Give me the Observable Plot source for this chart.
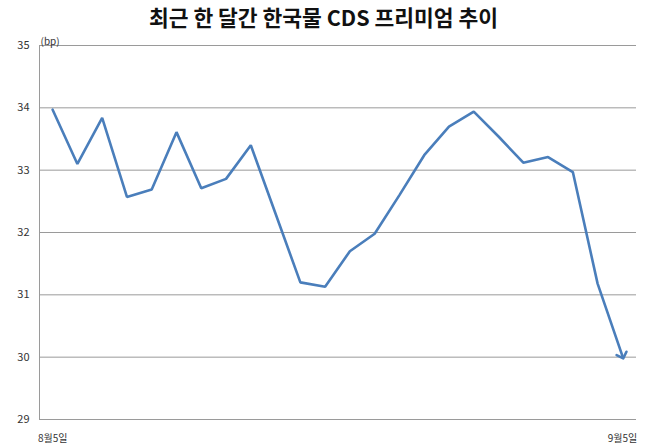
<!DOCTYPE html>
<html>
<head>
<meta charset="utf-8">
<script src="https://cdn.jsdelivr.net/npm/d3@7"></script>
<script src="https://cdn.jsdelivr.net/npm/@observablehq/plot@0.6"></script>
<style>
  html, body { margin: 0; padding: 0; background: #fff; }
  #title { width: 647px; height: 32px; text-align: center; font-family: "Noto Sans CJK KR", sans-serif; font-weight: 700; font-size: 21.5px; line-height: 34px; color: #111; box-sizing: border-box; }
  #chart svg { display: block; }
</style>
</head>
<body>
<div id="title">최근 한 달간 한국물 CDS 프리미엄 추이</div>
<div id="chart"></div>
<script>
const values = [33.97, 33.10, 33.84, 32.57, 32.69, 33.61, 32.71, 32.86, 33.40, 32.30,
                31.20, 31.13, 31.70, 31.98, 32.60, 33.24, 33.70, 33.94, 33.54, 33.12,
                33.21, 32.97, 31.18, 30.02];
const xTickLabels = ["8월5일", "9월5일"];
const yTicks = [29, 30, 31, 32, 33, 34, 35];
const unitLabel = "(bp)";

const data = values.map((v, i) => ({i, v}));
const lastIndex = values.length - 1;

const chart = Plot.plot({
  width: 647,
  height: 416,
  marginLeft: 39,
  marginRight: 11,
  marginTop: 13,
  marginBottom: 29,
  style: {fontFamily: "'Noto Sans CJK KR', sans-serif", fontSize: "11px", color: "#333", background: "#fff"},
  x: {type: "linear", domain: [-0.53, lastIndex + 0.57]},
  y: {domain: [29, 35]},
  marks: [
    Plot.gridY(yTicks, {stroke: "#9a9a9a", strokeOpacity: 1, strokeWidth: 1}),
    Plot.frame({anchor: "left", stroke: "#9a9a9a"}),
    Plot.axisY(yTicks, {tickSize: 0, tickPadding: 10, label: null, fontSize: 11, tickFormat: d3.format("d")}),
    Plot.axisX([0, lastIndex], {tickSize: 0, tickPadding: 15, label: null, fontSize: 10,
      tickFormat: d => d === 0 ? xTickLabels[0] : xTickLabels[1]}),
    Plot.text([unitLabel], {frameAnchor: "top-left", textAnchor: "start", lineAnchor: "bottom", dx: 1, dy: -1, fontSize: 10}),
    Plot.line(data, {x: "i", y: "v", stroke: "#4a7ebb", strokeWidth: 2.6, markerEnd: "arrow", strokeLinejoin: "miter"})
  ]
});
document.getElementById("chart").append(chart);
</script>
</body>
</html>
